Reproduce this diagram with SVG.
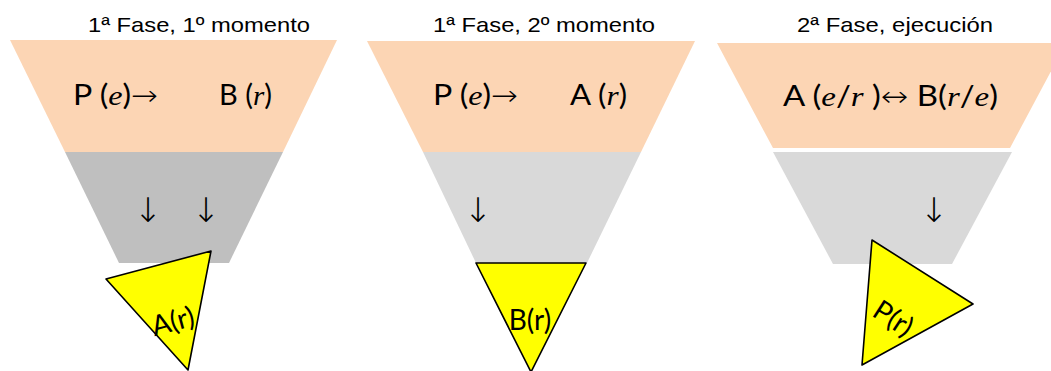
<svg xmlns="http://www.w3.org/2000/svg" width="1051" height="371" viewBox="0 0 1051 371">
<style>
.title{font-family:"Liberation Sans",Arial,sans-serif;font-size:21px;fill:#000;text-anchor:start}
.inner{font-family:Lato,"DejaVu Sans",sans-serif;font-size:28px;fill:#000}
.it{font-style:italic;font-family:"Liberation Serif",serif}
.ar{font-family:"DejaVu Sans",sans-serif;font-weight:200}
.peach{fill:#FCD5B4}
.g1{fill:#BFBFBF}
.g2{fill:#D9D9D9}
.tri{fill:#FFFF00;stroke:#000;stroke-width:1.6;stroke-linejoin:round}
.tt{font-family:Lato,"DejaVu Sans",sans-serif;font-size:28px;fill:#000;text-anchor:middle}
.arr{font-family:"DejaVu Sans",sans-serif;font-weight:200;font-size:34px;fill:#000;text-anchor:middle}
</style>
<g id="panel1">
  <text class="title" x="88" y="32" textLength="222" lengthAdjust="spacingAndGlyphs">1ª Fase, 1º momento</text>
  <polygon class="peach" points="10,40 337,40 283,152 65,152"/>
  <polygon class="g1" points="65,152 283,152 229,263 119,263"/>
  <text class="inner" x="73" y="105" textLength="85" lengthAdjust="spacingAndGlyphs">P (<tspan class="it">e</tspan>)<tspan class="ar">→</tspan></text>
  <text class="inner" x="219" y="105" textLength="53" lengthAdjust="spacingAndGlyphs">B (<tspan class="it">r</tspan>)</text>
  <text class="arr" x="148" y="222">↓</text>
  <text class="arr" x="206" y="222">↓</text>
</g>
<g id="panel2">
  <text class="title" x="433" y="32" textLength="222" lengthAdjust="spacingAndGlyphs">1ª Fase, 2º momento</text>
  <polygon class="peach" points="367,41 695,41 641,152 423,152"/>
  <polygon class="g2" points="423,152 641,152 587,263 476,263"/>
  <text class="inner" x="433" y="105" textLength="85" lengthAdjust="spacingAndGlyphs">P (<tspan class="it">e</tspan>)<tspan class="ar">→</tspan></text>
  <text class="inner" x="570" y="105" textLength="57" lengthAdjust="spacingAndGlyphs">A (<tspan class="it">r</tspan>)</text>
  <text class="arr" x="478" y="222">↓</text>
</g>
<g id="panel3">
  <text class="title" x="797" y="32" textLength="196" lengthAdjust="spacingAndGlyphs">2ª Fase, ejecución</text>
  <polygon class="peach" points="717,43 1066,43 1010,148 773,148"/>
  <polygon class="g2" points="773,152 1012,152 952,264 833,264"/>
  <text class="inner" x="783" y="106" textLength="215" lengthAdjust="spacingAndGlyphs">A (<tspan class="it">e</tspan>/<tspan class="it">r</tspan> )<tspan class="ar">↔</tspan> B(<tspan class="it">r</tspan>/<tspan class="it">e</tspan>)</text>
  <text class="arr" x="934" y="222">↓</text>
</g>
<g id="triA">
  <polygon class="tri" points="106,279 211,251 188,370"/>
  <text class="tt" x="173" y="331" transform="rotate(-15 173 322)">A(r)</text>
</g>
<g id="triB">
  <polygon class="tri" points="476,263 586,263 531,372"/>
  <text class="tt" x="530" y="330">B(r)</text>
</g>
<g id="triP">
  <polygon class="tri" points="872,240 973,304 862,365"/>
  <text class="tt" x="893" y="328" transform="rotate(33 893 319)">P(r)</text>
</g>
<g id="connectors"></g>
</svg>
